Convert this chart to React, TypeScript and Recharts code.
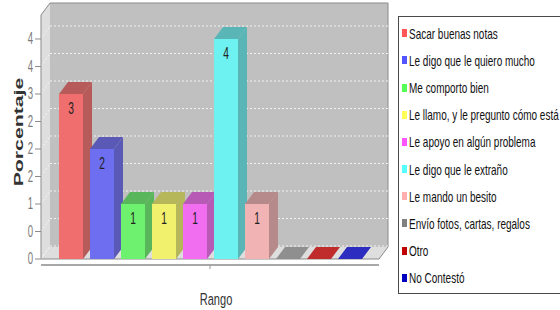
import React from 'react';
import { BarChart, Bar, XAxis, YAxis, Legend, ReferenceArea, LabelList } from 'recharts';

const categories = [''];
const seriesNames = [
  'Sacar buenas notas',
  'Le digo que le quiero mucho',
  'Me comporto bien',
  'Le llamo, y le pregunto cómo está',
  'Le apoyo en algún problema',
  'Le digo que le extraño',
  'Le mando un besito',
  'Envío fotos, cartas, regalos',
  'Otro',
  'No Contestó',
];
const seriesValues = [3, 2, 1, 1, 1, 4, 1, 0, 0, 0];
const yTicks = [0, 0.5, 1, 1.5, 2, 2.5, 3, 3.5, 4];
const yTickLabels = ['0', '0', '1', '2', '2', '2', '3', '4', '4'];
const yDomainMax = 4.436;
const yAxisTitle = 'Porcentaje';
const xAxisTitle = 'Rango';

const palette = ['#FF5555', '#5555FF', '#55FF55', '#FFFF55', '#FF55FF', '#55FFFF', '#FFAFAF', '#808080', '#C00000', '#0000C0'];

const FONT = "'Liberation Sans', Arial, sans-serif";
const DX = 9;
const DY = 12;

const hexToRgb = (h: string) => [1, 3, 5].map((i) => parseInt(h.slice(i, i + 2), 16));
const toHex = (arr: number[]) =>
  '#' + arr.map((v) => Math.round(Math.max(0, Math.min(255, v))).toString(16).padStart(2, '0')).join('');
const blend = (hex: string, k = 1) => {
  const a = 0.77;
  const bg = 192;
  return toHex(hexToRgb(hex).map((c) => c * k * a + bg * (1 - a)));
};

const data = categories.map((name) => {
  const row: any = { name };
  seriesValues.forEach((v, i) => {
    row['s' + i] = v;
  });
  return row;
});

const Bar3D = (props: any) => {
  const { x, y, width, height, si } = props;
  if (x == null || width == null || y == null) return null;
  const h = height || 0;
  const front = blend(palette[si]);
  const dark = blend(palette[si], 0.7);
  if (h < 0.5) {
    const b = y + h;
    return (
      <polygon
        points={`${x},${b} ${x + DX},${b - DY} ${x + width + DX},${b - DY} ${x + width},${b}`}
        fill={front}
      />
    );
  }
  return (
    <g>
      <rect x={x} y={y} width={width} height={h} fill={front} />
      <polygon
        points={`${x + width},${y} ${x + width + DX},${y - DY} ${x + width + DX},${y + h - DY} ${x + width},${y + h}`}
        fill={dark}
      />
      <polygon
        points={`${x},${y} ${x + DX},${y - DY} ${x + width + DX},${y - DY} ${x + width},${y}`}
        fill={dark}
      />
    </g>
  );
};

const ValueLabel = (props: any) => {
  const vb = props.viewBox || {};
  const x = props.x ?? vb.x;
  const y = props.y ?? vb.y;
  const width = props.width ?? vb.width;
  const { value } = props;
  if (!value || x == null) return null;
  const cx = x + width / 2;
  const cy = y + 14;
  return (
    <text
      transform={`translate(${cx},${cy}) scale(0.6,1)`}
      textAnchor="middle"
      dominantBaseline="central"
      fontSize={17}
      fontFamily={FONT}
      fill="#222"
    >
      {value}
    </text>
  );
};

const Frame = (p: any) => {
  const { x, y, width: w, height: h } = p;
  if (x == null) return null;
  const b = y + h;
  return (
    <g>
      <polygon points={`${x},${y} ${x + DX},${y - DY} ${x + DX},${b - DY} ${x},${b}`} fill="#dedede" />
      <rect x={x + DX} y={y - DY} width={w} height={h} fill="#c0c0c0" />
      <polygon points={`${x},${b} ${x + DX},${b - DY} ${x + w + DX},${b - DY} ${x + w},${b}`} fill="#dedede" />
      <polyline
        points={`${x},${y} ${x + DX},${y - DY} ${x + w + DX},${y - DY} ${x + w + DX},${b - DY} ${x + w},${b} ${x},${b}`}
        fill="none"
        stroke="#8a8a8a"
      />
      <line x1={x} y1={b + 6} x2={x + w} y2={b + 6} stroke="#a8a8a8" strokeWidth={2} />
      <line x1={x + w / 2} y1={b + 6} x2={x + w / 2} y2={b + 10} stroke="#999" />
    </g>
  );
};

const GridLine = (p: any) => {
  const { x, y, width: w, height: h } = p;
  if (x == null) return null;
  const ty = y + h;
  return (
    <g>
      <line x1={x + DX} y1={ty - DY - 1} x2={x + w + DX} y2={ty - DY - 1} stroke="#f2f2f2" strokeDasharray="2 2" />
      <line x1={x} y1={ty} x2={x + DX} y2={ty - DY - 1} stroke="#f6f6f6" strokeDasharray="2 2" />
    </g>
  );
};

const YTick = (p: any) => {
  const { x, y, payload, index } = p;
  const i = index ?? yTicks.indexOf(payload.value);
  return (
    <text
      transform={`translate(${x},${y}) scale(0.6,1)`}
      textAnchor="end"
      dominantBaseline="central"
      fontSize={16}
      fontFamily={FONT}
      fill="#7a7a7a"
    >
      {yTickLabels[i]}
    </text>
  );
};

const YTitle = (p: any) => {
  const vb = p.viewBox || { x: 0, y: 15, width: 41, height: 244 };
  const cy = vb.y + vb.height / 2 - 5;
  return (
    <text
      transform={`translate(23,${cy}) rotate(-90) scale(1.7,1)`}
      textAnchor="middle"
      fontSize={12.5}
      fontWeight="bold"
      fontFamily={FONT}
      fill="#333"
    >
      {yAxisTitle}
    </text>
  );
};

const XTitle = (p: any) => {
  const vb = p.viewBox || { x: 41, y: 259, width: 338, height: 51 };
  const cx = vb.x + vb.width / 2 + 6;
  const cy = vb.y + 46;
  return (
    <text
      transform={`translate(${cx},${cy}) scale(0.65,1)`}
      textAnchor="middle"
      fontSize={17}
      fontFamily={FONT}
      fill="#333"
    >
      {xAxisTitle}
    </text>
  );
};

const LegendBox = () => {
  const items = seriesNames.map((n, i) => ({ label: n, color: palette[i] }));
  return (
    <div
      style={{
        boxSizing: 'border-box',
        width: 180,
        height: 278,
        border: '1px solid #4a4a4a',
        background: '#fff',
        paddingTop: 2.7,
      }}
    >
      {items.map((it, i) => (
        <div key={i} style={{ height: 27.16, display: 'flex', alignItems: 'center' }}>
          <span style={{ width: 5, height: 8, background: it.color, marginLeft: 2.5, flex: 'none' }} />
          <span
            style={{
              marginLeft: 2,
              fontFamily: FONT,
              fontSize: 15,
              color: '#111',
              whiteSpace: 'nowrap',
              transform: 'scaleX(0.665)',
              transformOrigin: 'left center',
              display: 'inline-block',
            }}
          >
            {it.label}
          </span>
        </div>
      ))}
    </div>
  );
};

export default function App() {
  return (
    <div style={{ position: 'absolute', left: 0, top: 0, width: 560, height: 310, overflow: 'hidden', background: '#fff' }}>
      <BarChart
        width={560}
        height={310}
        data={data}
        margin={{ top: 15, right: 181, bottom: 0, left: 0 }}
        barSize={24}
        barGap={7}
      >
        <XAxis dataKey="name" axisLine={false} tickLine={false} tick={false} height={51} label={(p: any) => <XTitle {...p} />} />
        <YAxis
          width={41}
          domain={[0, yDomainMax]}
          ticks={yTicks}
          interval={0}
          tickSize={6}
          tickMargin={2}
          axisLine={{ stroke: '#8a8a8a' }}
          tickLine={{ stroke: '#8a8a8a' }}
          tick={(p: any) => <YTick {...p} />}
          label={(p: any) => <YTitle {...p} />}
        />
        <ReferenceArea y1={0} y2={yDomainMax} shape={(p: any) => <Frame {...p} />} ifOverflow="visible" />
        {yTicks.map((t) => (
          <ReferenceArea key={'g' + t} y1={t} y2={yDomainMax} shape={(p: any) => <GridLine {...p} />} ifOverflow="visible" />
        ))}
        {seriesNames.map((name, i) => (
          <Bar
            key={name}
            dataKey={'s' + i}
            name={name}
            fill={palette[i]}
            isAnimationActive={false}
            shape={(p: any) => <Bar3D {...p} si={i} />}
          >
            <LabelList dataKey={'s' + i} content={(p: any) => <ValueLabel {...p} />} />
          </Bar>
        ))}
        <Legend
          layout="vertical"
          align="center"
          verticalAlign="middle"
          wrapperStyle={{ left: 398, top: 16, width: 180, height: 278 }}
          content={() => <LegendBox />}
        />
      </BarChart>
    </div>
  );
}
